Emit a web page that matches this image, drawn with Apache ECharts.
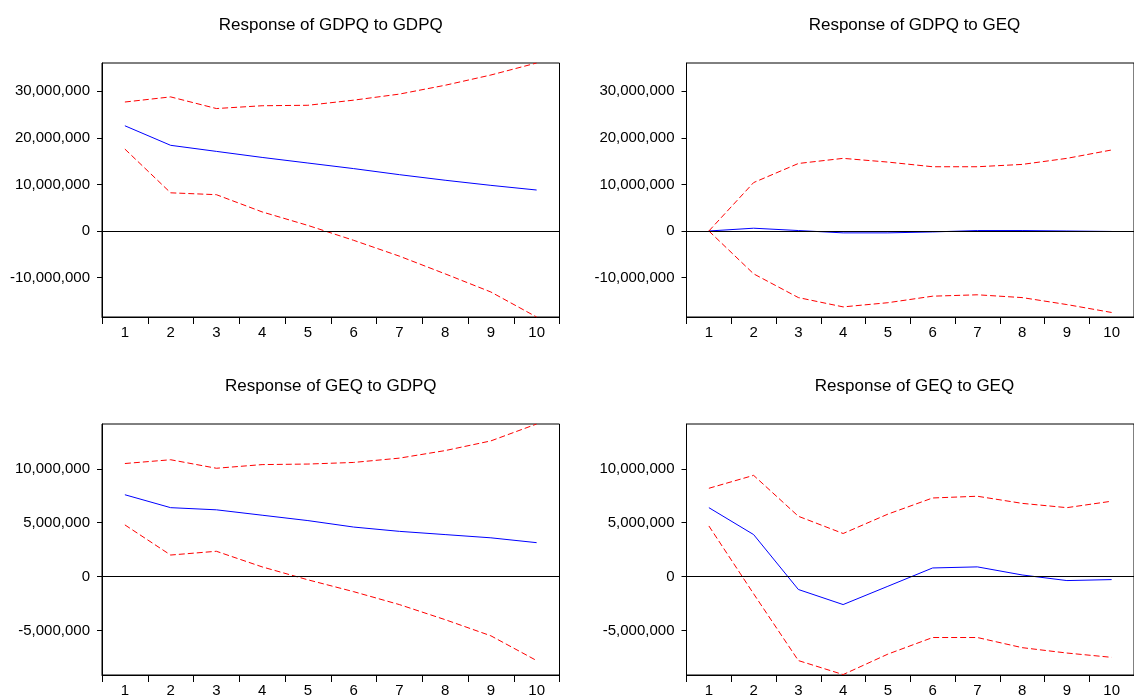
<!DOCTYPE html>
<html>
<head>
<meta charset="utf-8">
<title>Impulse responses</title>
<script src="https://cdn.jsdelivr.net/npm/echarts@6/dist/echarts.min.js"></script>
<style>
    html, body { margin: 0; padding: 0; background: #fff; }
    #main { width: 1134px; height: 698px; }
</style>
</head>
<body>
<div id="main"></div>
<script>
var periods = ['1', '2', '3', '4', '5', '6', '7', '8', '9', '10'];

// Response of GDPQ to GDPQ
var gdpGdpResp = [22.6, 18.4, 17.1, 15.8, 14.6, 13.4, 12.1, 10.9, 9.8, 8.8];
var gdpGdpUpper = [27.7, 28.8, 26.3, 26.9, 27.0, 28.1, 29.4, 31.3, 33.5, 36.08];
var gdpGdpLower = [17.6, 8.2, 7.8, 4.1, 1.2, -2.0, -5.4, -9.2, -13.1, -18.47];

// Response of GDPQ to GEQ
var gdpGeqResp = [0, 0.6, 0.1, -0.4, -0.4, -0.2, 0.1, 0.1, 0.0, -0.1];
var gdpGeqUpper = [0, 10.4, 14.5, 15.6, 14.8, 13.8, 13.8, 14.3, 15.6, 17.4];
var gdpGeqLower = [0, -9.2, -14.3, -16.3, -15.4, -14.0, -13.7, -14.3, -15.8, -17.5];

// Response of GEQ to GDPQ
var geqGdpResp = [7.6, 6.4, 6.2, 5.7, 5.2, 4.6, 4.2, 3.9, 3.6, 3.15];
var geqGdpUpper = [10.5, 10.85, 10.06, 10.4, 10.45, 10.6, 11.0, 11.7, 12.6, 14.17];
var geqGdpLower = [4.8, 2.0, 2.35, 0.9, -0.3, -1.4, -2.6, -4.0, -5.5, -7.8];

// Response of GEQ to GEQ
var geqGeqResp = [6.4, 3.9, -1.2, -2.6, -0.9, 0.8, 0.9, 0.15, -0.37, -0.28];
var geqGeqUpper = [8.2, 9.4, 5.6, 4.0, 5.8, 7.3, 7.46, 6.8, 6.4, 7.0];
var geqGeqLower = [4.7, -1.6, -7.8, -9.1, -7.2, -5.66, -5.66, -6.6, -7.1, -7.5];

// tick labels and axis extents (millions)
var topTicks = [-10000000, 0, 10000000, 20000000, 30000000];
var bottomTicks = [-5000000, 0, 5000000, 10000000];
var topRange = [-18.47, 36.08];
var bottomRange = [-9.14, 14.17];

var titles = ['Response of GDPQ to GDPQ', 'Response of GDPQ to GEQ',
    'Response of GEQ to GDPQ', 'Response of GEQ to GEQ'];

var fontName = '"Liberation Sans", Arial, sans-serif';

function toUnits(list){
    return list.map(function(v){ return Math.round(v * 1000000); });
}

function fmt(v){
    return Number(v).toLocaleString('en-US');
}

var panels = [
    {resp: gdpGdpResp, upper: gdpGdpUpper, lower: gdpGdpLower, range: topRange, ticks: topTicks},
    {resp: gdpGeqResp, upper: gdpGeqUpper, lower: gdpGeqLower, range: topRange, ticks: topTicks},
    {resp: geqGdpResp, upper: geqGdpUpper, lower: geqGdpLower, range: bottomRange, ticks: bottomTicks},
    {resp: geqGeqResp, upper: geqGeqUpper, lower: geqGeqLower, range: bottomRange, ticks: bottomTicks}
];

// plot box positions
var boxes = [
    {left: 102, top: 63, width: 457.5, height: 254},
    {left: 686.5, top: 63, width: 456, height: 254},
    {left: 102, top: 424, width: 457.5, height: 254},
    {left: 686.5, top: 424, width: 456, height: 254}
];

var grid = [], xAxis = [], yAxis = [], series = [], title = [];

panels.forEach(function(p, i){
    var b = boxes[i];
    grid.push({
        left: b.left, top: b.top, width: b.width, height: b.height,
        show: true, borderColor: '#000', borderWidth: 1, backgroundColor: 'transparent'
    });
    title.push({
        text: titles[i],
        left: b.left + b.width / 2,
        top: b.top - 46,
        textAlign: 'center',
        padding: 0,
        textStyle: {fontFamily: fontName, fontSize: 17, fontWeight: 'normal', color: '#000'}
    });
    xAxis.push({
        type: 'category', gridIndex: i, data: periods, boundaryGap: true,
        axisLine: {show: true, onZero: false, lineStyle: {color: '#000', width: 1}},
        axisTick: {show: true, interval: 0, length: 7, lineStyle: {color: '#000'}},
        axisLabel: {interval: 0, margin: 8, fontSize: 15, color: '#000', fontFamily: fontName},
        splitLine: {show: false}
    });
    yAxis.push({
        type: 'value', gridIndex: i,
        min: p.range[0] * 1000000, max: p.range[1] * 1000000,
        axisLine: {show: true, onZero: false, lineStyle: {color: '#000', width: 1}},
        axisTick: {show: true, length: 5, customValues: p.ticks, lineStyle: {color: '#000'}},
        axisLabel: {
            customValues: p.ticks, margin: 12, fontSize: 15, color: '#000',
            fontFamily: fontName, formatter: fmt
        },
        splitLine: {show: false}
    });
    series.push({
        type: 'line', xAxisIndex: i, yAxisIndex: i, data: toUnits(p.resp),
        symbol: 'none', lineStyle: {color: '#0000ff', width: 1}, z: 3,
        markLine: {
            silent: true, symbol: ['none', 'none'], label: {show: false},
            lineStyle: {color: '#000', type: 'solid', width: 1},
            data: [{yAxis: 0}]
        }
    });
    series.push({
        type: 'line', xAxisIndex: i, yAxisIndex: i, data: toUnits(p.upper),
        symbol: 'none', lineStyle: {color: '#ff0000', width: 1, type: [6, 3]}
    });
    series.push({
        type: 'line', xAxisIndex: i, yAxisIndex: i, data: toUnits(p.lower),
        symbol: 'none', lineStyle: {color: '#ff0000', width: 1, type: [6, 3]}
    });
});

var chart = echarts.init(document.getElementById('main'));
chart.setOption({
    animation: false,
    backgroundColor: '#fff',
    title: title,
    grid: grid,
    xAxis: xAxis,
    yAxis: yAxis,
    series: series
});
</script>
</body>
</html>
